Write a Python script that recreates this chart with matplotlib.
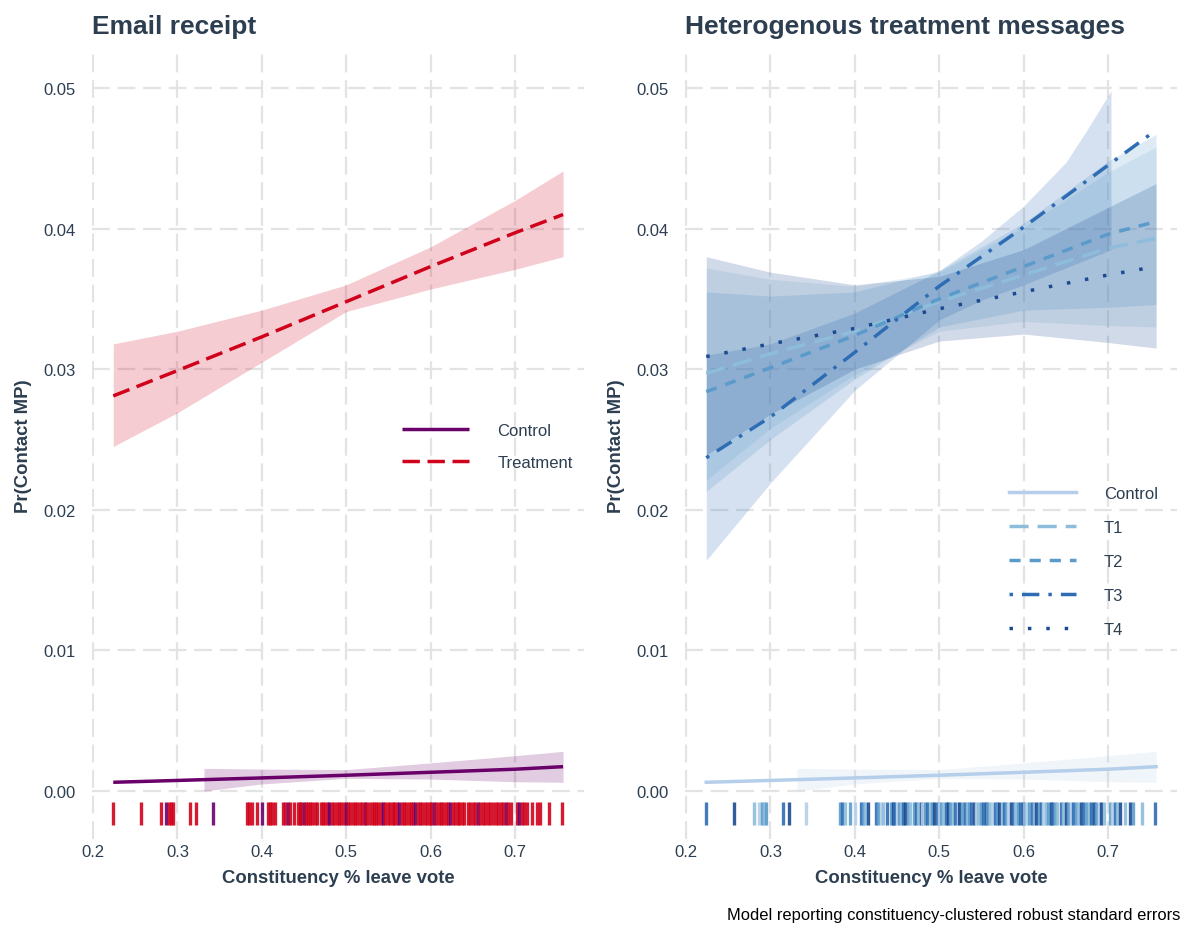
import matplotlib
matplotlib.use("Agg")
import matplotlib.pyplot as plt
import numpy as np

plt.rcParams['font.family'] = ['Liberation Sans', 'DejaVu Sans']

# ---------------- data ----------------
xg = [0.224, 0.3, 0.4, 0.5, 0.6, 0.7, 0.757]

ctrl_fit = [0.00062, 0.00075, 0.00093, 0.00112, 0.00133, 0.00155, 0.00173]
ctrl_rx = [0.3315, 0.4, 0.5, 0.6, 0.7, 0.757]
ctrl_lo = [0.0000, 0.0005, 0.0009, 0.00085, 0.00066, 0.00062]
ctrl_hi = [0.00161, 0.00156, 0.00152, 0.0020, 0.00251, 0.00282]

treat_fit = [0.0281, 0.0299, 0.0323, 0.0348, 0.0373, 0.0397, 0.0410]
treat_lo = [0.0245, 0.0269, 0.0305, 0.0341, 0.0357, 0.0371, 0.0380]
treat_hi = [0.0318, 0.0327, 0.0342, 0.0360, 0.0387, 0.0420, 0.0441]

t1_fit = [0.0297, 0.0311, 0.0327, 0.0348, 0.0367, 0.0386, 0.0393]
t1_lo = [0.0221, 0.0258, 0.0296, 0.0327, 0.0334, 0.0331, 0.0330]
t1_hi = [0.0372, 0.0364, 0.0359, 0.0369, 0.0401, 0.0440, 0.0458]

t2_fit = [0.0284, 0.0301, 0.0324, 0.0350, 0.0373, 0.0396, 0.0405]
t2_lo = [0.0213, 0.0250, 0.0293, 0.0330, 0.0342, 0.0344, 0.0346]
t2_hi = [0.0355, 0.0352, 0.0355, 0.0370, 0.0404, 0.0448, 0.0467]

t3_fit = [0.0237, 0.0266, 0.0312, 0.0359, 0.0401, 0.0445, 0.0470]
t3_rx = [0.224, 0.3, 0.4, 0.5, 0.55, 0.6, 0.65, 0.675, 0.7036]
t3_lo = [0.0164, 0.0219, 0.0285, 0.0335, 0.0349, 0.0360, 0.0372, 0.0378, 0.0385]
t3_hi = [0.0310, 0.0318, 0.0340, 0.0370, 0.0391, 0.0416, 0.0447, 0.0470, 0.0498]

t4_fit = [0.0309, 0.0318, 0.0329, 0.0343, 0.0355, 0.0367, 0.0373]
t4_lo = [0.0239, 0.0268, 0.0300, 0.0320, 0.0325, 0.0319, 0.0315]
t4_hi = [0.0380, 0.0369, 0.0360, 0.0366, 0.0385, 0.0415, 0.0432]

rug_x = [0.224, 0.257, 0.280, 0.2865, 0.290, 0.292, 0.2944, 0.315, 0.3217, 0.342,
         0.382, 0.385, 0.388, 0.3947, 0.400, 0.407, 0.410, 0.4125, 0.4156, 0.4255, 0.428, 0.431, 0.4334, 0.438, 0.443,
         0.445, 0.447, 0.450, 0.452, 0.455, 0.457, 0.460, 0.463, 0.465,
         0.470, 0.472, 0.475, 0.478, 0.480, 0.483, 0.486, 0.489, 0.491, 0.494, 0.497, 0.500, 0.502, 0.505, 0.508,
         0.511, 0.513, 0.516, 0.519, 0.522, 0.524, 0.527, 0.530, 0.533, 0.535, 0.538, 0.541, 0.544, 0.546, 0.549,
         0.552, 0.555, 0.557, 0.560, 0.563, 0.566, 0.568, 0.571, 0.574, 0.577, 0.579, 0.582, 0.585, 0.588, 0.590,
         0.593, 0.596, 0.599, 0.601, 0.604, 0.607, 0.610, 0.612, 0.615, 0.618, 0.621, 0.623, 0.626, 0.629, 0.632,
         0.634, 0.637, 0.640,
         0.644, 0.647, 0.650, 0.653, 0.656, 0.659, 0.662, 0.665, 0.668, 0.671, 0.674,
         0.677, 0.680, 0.683, 0.686, 0.689, 0.692, 0.695,
         0.702, 0.705, 0.708, 0.711, 0.714,
         0.7198, 0.7257, 0.7296, 0.7407, 0.7553]
rug_group = [3, 4, 1, 0, 2, 1, 2, 3, 4, 0,
             2, 3, 1, 2, 0, 3, 2, 1, 4, 3, 2, 0, 1, 3, 2,
             4, 3, 0, 2, 1, 3, 4, 2, 1,
             2, 3, 1, 4, 0, 2, 3, 1, 2, 4, 3, 0, 2, 1, 3,
             4, 2, 1, 3, 0, 4, 2, 3, 1, 2, 3, 4, 0, 1, 2,
             3, 4, 2, 1, 0, 3, 2, 4, 1, 3, 2, 0, 4, 3, 1,
             2, 3, 4, 1, 0, 2, 3, 1, 4, 2, 3, 0, 1, 2, 4,
             3, 2, 1,
             3, 1, 4, 2, 0, 3, 2, 1, 4, 3, 2,
             1, 3, 4, 2, 0, 4, 1,
             2, 0, 3, 1, 4,
             1, 4, 2, 1, 3]

xticks = [0.2, 0.3, 0.4, 0.5, 0.6, 0.7]
yticks = [0.00, 0.01, 0.02, 0.03, 0.04, 0.05]

# ---------------- style ----------------
W, H = 1187, 929
TXT = '#2C3E50'
GRID = '#E3E3E3'
PURPLE = '#6A006A'
RED = '#D0021B'
BLUES = ['#B5CEE9', '#8DBDDA', '#5B9BCB', '#2E6DB4', '#1C4A91']

fig = plt.figure(figsize=(W / 100, H / 100), dpi=100)

def make_ax(left_px):
    ax = fig.add_axes([left_px / W, (H - 840) / H, 492 / W, 787 / H])
    ax.set_xlim(0.1988, 0.7818)
    ax.set_ylim(-0.003414, 0.05256)
    for s in ax.spines.values():
        s.set_visible(False)
    ax.set_xticks(xticks)
    ax.set_yticks(yticks)
    ax.set_xticklabels([f"{v:.1f}" for v in xticks])
    ax.set_yticklabels([f"{v:.2f}" for v in yticks])
    ax.tick_params(length=0, labelsize=12, colors=TXT)
    ax.tick_params(axis='y', pad=12)
    ax.tick_params(axis='x', pad=3.5)
    ax.grid(True, color=GRID, lw=1.6, dashes=(8, 3.5))
    ax.set_axisbelow(True)
    ax.set_xlabel('Constituency % leave vote', fontsize=13.3, fontweight='bold', color=TXT, labelpad=7)
    ax.set_ylabel('Pr(Contact MP)', fontsize=13.3, fontweight='bold', color=TXT, labelpad=8)
    return ax

ax1 = make_ax(92)
ax2 = make_ax(685)

rug_lo, rug_hi = -0.00245, -0.00078

# ---------------- left panel ----------------
ax1.fill_between(ctrl_rx, ctrl_lo, ctrl_hi, color=PURPLE, alpha=0.2, lw=0)
ax1.fill_between(xg, treat_lo, treat_hi, color=RED, alpha=0.2, lw=0)
ax1.plot(xg, ctrl_fit, color=PURPLE, lw=2.5, solid_capstyle='butt', label='Control')
ax1.plot(xg, treat_fit, color=RED, lw=2.5, dashes=(5, 2.2), label='Treatment')
for xv, g in zip(rug_x, rug_group):
    ax1.vlines(xv, rug_lo, rug_hi, color=(PURPLE if g == 0 else RED), lw=2.4, alpha=0.9)
leg1 = ax1.legend(loc='upper left', bbox_to_anchor=(0.60, 0.548), frameon=False, fontsize=12,
                  handlelength=4.0, handletextpad=1.7, labelspacing=1.05, labelcolor=TXT)
ax1.text(0.0, 1.033, 'Email receipt', transform=ax1.transAxes, fontsize=19, fontweight='bold',
         color=TXT, ha='left', va='center')

# ---------------- right panel ----------------
ax2.fill_between(ctrl_rx, ctrl_lo, ctrl_hi, color=BLUES[0], alpha=0.2, lw=0)
ax2.fill_between(xg, t1_lo, t1_hi, color=BLUES[1], alpha=0.2, lw=0)
ax2.fill_between(xg, t2_lo, t2_hi, color=BLUES[2], alpha=0.2, lw=0)
ax2.fill_between(t3_rx, t3_lo, t3_hi, color=BLUES[3], alpha=0.2, lw=0)
ax2.fill_between(xg, t4_lo, t4_hi, color=BLUES[4], alpha=0.2, lw=0)
ax2.plot(xg, ctrl_fit, color=BLUES[0], lw=2.5, label='Control')
ax2.plot(xg, t1_fit, color=BLUES[1], lw=2.5, dashes=(5.5, 2.6), label='T1')
ax2.plot(xg, t2_fit, color=BLUES[2], lw=2.5, dashes=(3.2, 2.6), label='T2')
ax2.plot(xg, t3_fit, color=BLUES[3], lw=2.5, dashes=(1, 2.6, 5, 2.6), label='T3')
ax2.plot(xg, t4_fit, color=BLUES[4], lw=2.5, dashes=(1, 4.3), label='T4')
for xv, g in zip(rug_x, rug_group):
    ax2.vlines(xv, rug_lo, rug_hi, color=BLUES[g], lw=2.4, alpha=0.9)
leg2 = ax2.legend(loc='upper left', bbox_to_anchor=(0.628, 0.468), frameon=False, fontsize=12,
                  handlelength=4.0, handletextpad=1.7, labelspacing=1.14, labelcolor=TXT)
ax2.text(0.0, 1.033, 'Heterogenous treatment messages', transform=ax2.transAxes, fontsize=19,
         fontweight='bold', color=TXT, ha='left', va='center')

fig.text(1180 / W, 1 - 916 / H, 'Model reporting constituency-clustered robust standard errors',
         fontsize=11.9, color='black', ha='right', va='center')

fig.savefig('out.png', dpi=100, facecolor='white')
